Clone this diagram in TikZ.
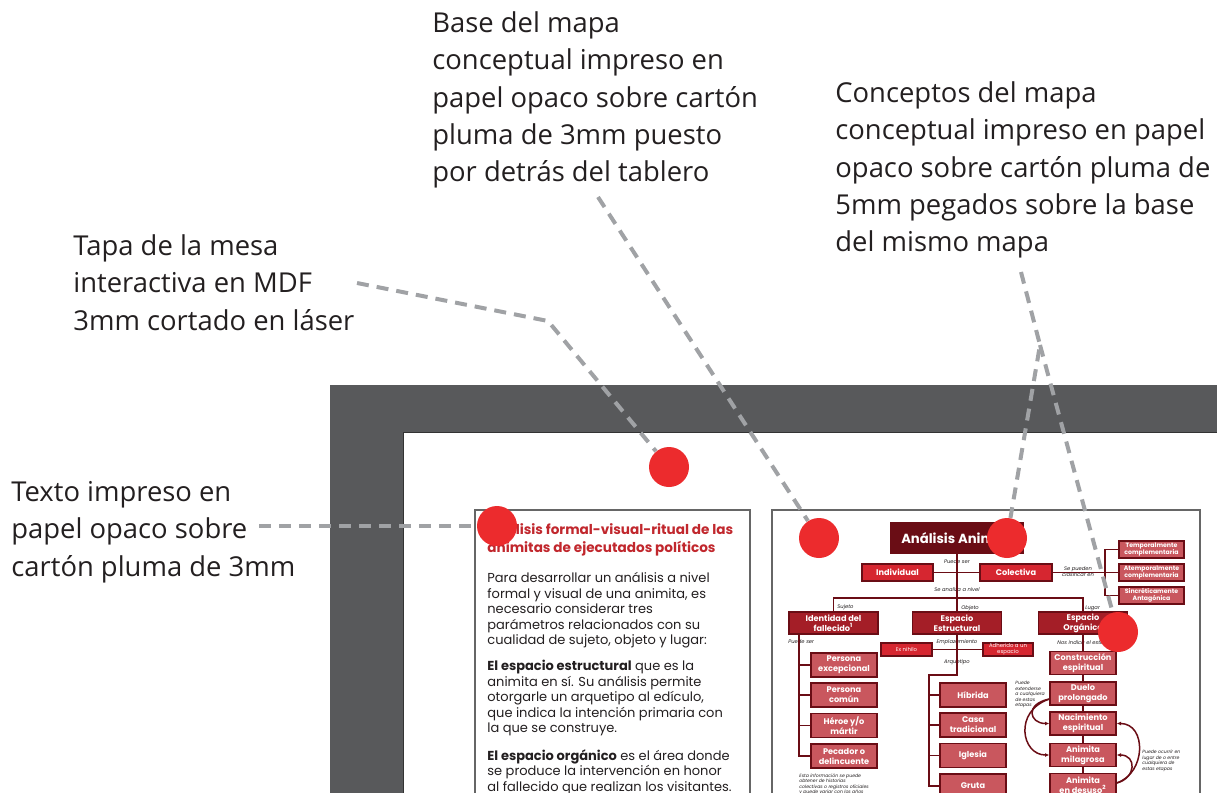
\documentclass[tikz,border=0pt]{standalone}
\usepackage{fontspec}
\setmainfont{Open Sans}
\newfontfamily\pop{Poppins}
\usetikzlibrary{positioning, arrows.meta, calc}

\definecolor{framegray}{HTML}{58595B}
\definecolor{leadgray}{HTML}{A0A2A5}
\definecolor{dotred}{HTML}{EC2B2D}
\definecolor{maroon}{HTML}{6A0D15}
\definecolor{boxred}{HTML}{D62630}
\definecolor{boxdark}{HTML}{A41E27}
\definecolor{boxpink}{HTML}{C9575E}
\definecolor{titlered}{HTML}{C1272D}
\definecolor{inktext}{HTML}{231F20}

\begin{document}
\begin{tikzpicture}[x=0.5pt, y=-0.5pt,
  note/.style={anchor=north west, inner sep=0, align=left, text=inktext,
    font=\fontsize{13.7}{18.7}\selectfont},
  lead/.style={leadgray, line width=2pt, dash pattern=on 6pt off 4pt},
  dot/.style={circle, fill=dotred, minimum size=20pt, inner sep=0},
  body/.style={anchor=north west, inner sep=0, align=left, text=inktext,
    font=\pop\fontsize{6.5}{7.75}\selectfont},
  cbox/.style={draw=maroon, line width=0.6pt, text=white, align=center,
    inner sep=0, font=\pop\bfseries\fontsize{4.1}{5}\selectfont},
  redbox/.style={cbox, fill=boxred},
  darkbox/.style={cbox, fill=boxdark, minimum width=44.5pt, minimum height=11pt},
  pinkbox/.style={cbox, fill=boxpink, minimum width=33pt, minimum height=12pt},
  sidebox/.style={cbox, fill=boxpink, minimum width=32.5pt, minimum height=8.5pt,
    font=\pop\bfseries\fontsize{3.1}{3.6}\selectfont},
  lbl/.style={inner sep=0, text=inktext, font=\pop\itshape\fontsize{2.6}{3}\selectfont},
  small/.style={lbl, anchor=north west, align=left,
    font=\pop\itshape\fontsize{2.3}{2.75}\selectfont},
  link/.style={maroon, line width=0.75pt},
  curv/.style={link, -{Latex[length=2.2pt, width=2pt]}},
]
  \clip (0,0) rectangle (1217,793);

  % table top and printed sheets
  \fill[framegray] (330,385) rectangle (1240,810);
  \filldraw[fill=white, draw=black!80, line width=0.5pt] (403,432) rectangle (1240,810);
  \filldraw[fill=white, draw=black!60, line width=0.6pt] (475,510) rectangle (750,810);
  \filldraw[fill=white, draw=black!60, line width=0.6pt] (772,510) rectangle (1200,810);

  % left sheet
  \node[body, text=titlered, font=\pop\bfseries\fontsize{6.8}{9}\selectfont] (hd) at (487,523)
    {Análisis formal-visual-ritual de las\\animitas de ejecutados políticos};
  \node[body] (pa) at (487,572) {Para desarrollar un análisis a nivel\\formal y visual de una animita, es\\necesario considerar tres\\parámetros relacionados con su\\cualidad de sujeto, objeto y lugar:};
  \node[body] (pb) at (487,660) {\textbf{El espacio estructural} que es la\\animita en sí. Su análisis permite\\otorgarle un arquetipo al edículo,\\que indica la intención primaria con\\la que se construye.};
  \node[body] (pc) at (487,749) {\textbf{El espacio orgánico} es el área donde\\se produce la intervención en honor\\al fallecido que realizan los visitantes.};

  % concept map
  \node[cbox, fill=maroon, minimum width=66pt, minimum height=15pt,
    font=\pop\bfseries\fontsize{6.6}{7}\selectfont] (ama) at (957,538) {Análisis Animita};
  \node[redbox, minimum width=35.5pt, minimum height=8.5pt] (ind) at (897.5,572.5) {Individual};
  \node[redbox, minimum width=36pt, minimum height=8.5pt] (col) at (1016,572.5) {Colectiva};
  \node[sidebox] (tmp) at (1151.5,549.5) {Temporalmente\\complementaria};
  \node[sidebox] (atm) at (1151.5,572.5) {Atemporalmente\\complementaria};
  \node[sidebox] (sin) at (1151.5,595.5) {Sincréticamente\\Antagónica};

  \node[darkbox] (idn) at (833.5,623) {Identidad del\\fallecido\textsuperscript{1}};
  \node[darkbox] (est) at (957,623) {Espacio\\Estructural};
  \node[darkbox] (org) at (1083,623) {Espacio\\Orgánico};

  \node[pinkbox] (pex) at (844,665) {Persona\\excepcional};
  \node[pinkbox] (pco) at (844,695) {Persona\\común};
  \node[pinkbox] (her) at (844,725.5) {Héroe y/o\\mártir};
  \node[pinkbox] (pec) at (844,756) {Pecador o\\delincuente};

  \node[redbox, minimum width=25.5pt, minimum height=6.5pt,
    font=\pop\fontsize{2.7}{3}\selectfont] (exn) at (906.5,649.5) {Ex nihilo};
  \node[redbox, minimum width=25pt, minimum height=6.5pt,
    font=\pop\fontsize{2.7}{2.9}\selectfont] (adh) at (1008,649.5) {Adherido a un\\espacio};

  \node[pinkbox] (hib) at (973,695) {Híbrida};
  \node[pinkbox] (cas) at (973,725) {Casa\\tradicional};
  \node[pinkbox] (igl) at (973,755.5) {Iglesia};
  \node[pinkbox] (gru) at (973,786) {Gruta};

  \node[pinkbox, minimum height=11.5pt] (con) at (1083,663) {Construcción\\espiritual};
  \node[pinkbox, minimum height=11.5pt] (due) at (1083,693.5) {Duelo\\prolongado};
  \node[pinkbox, minimum height=11.5pt] (nac) at (1083,723.5) {Nacimiento\\espiritual};
  \node[pinkbox, minimum height=11.5pt] (mil) at (1083,755) {Animita\\milagrosa};
  \node[pinkbox, minimum height=11.5pt] (des) at (1083,785) {Animita\\en desuso\textsuperscript{2}};

  % map labels
  \node[lbl] (l1) at (957,562) {Puede ser};
  \node[lbl] (l2) at (957,590) {Se analiza a nivel};
  \node[lbl, anchor=west] (l3) at (837,607) {Sujeto};
  \node[lbl, anchor=west] (l4) at (961,608) {Objeto};
  \node[lbl, anchor=west] (l5) at (1085,608) {Lugar};
  \node[lbl, align=center] (l6) at (1078,572) {Se pueden\\clasificar en};
  \node[lbl, anchor=west] (l7) at (788,642) {Puede ser};
  \node[lbl] (l8) at (957,642) {Emplazamiento};
  \node[lbl] (l9) at (957,662) {Arquetipo};
  \node[lbl, anchor=west] (l10) at (1057,643) {Nos indica el estado};
  \node[small] (l11) at (1015,681) {Puede\\extenderse\\a cualquiera\\de estas\\etapas};
  \node[small] (l12) at (1142,750) {Puede ocurrir en\\lugar de o entre\\cualquiera de\\estas etapas};
  \node[small] (l13) at (799,773) {Esta información se puede\\obtener de historias\\colectivas o registros oficiales\\y puede variar con los años};

  % map connectors
  \coordinate (lvl) at (957,598);
  \draw[link] (ama.south) -- (lvl);
  \draw[link] (ind.east) -- (col.west);
  \draw[link] (idn.north) |- (lvl) -| (org.north);
  \draw[link] (lvl) -- (est.north);
  \draw[link] (col.east) -- (atm.west);
  \coordinate (brk) at (1105,572.5);
  \draw[link] (tmp.west) -| (brk) |- (sin.west);

  \coordinate (suj) at ([xshift=-17.25pt]idn.south);
  \draw[link] (suj) |- (pec.west);
  \foreach \b in {pex, pco, her}
    \draw[link] (\b.west) -- (\b.west -| suj);

  \draw[link] (exn.east) -- (adh.west);
  \coordinate (arq) at (957,675);
  \coordinate (tkm) at (929,675);
  \draw[link] (est.south) -- (arq) -- (tkm) |- (gru.west);
  \foreach \b in {hib, cas, igl}
    \draw[link] (\b.west) -- (\b.west -| tkm);

  \foreach \a/\b in {org/con, con/due, due/nac, nac/mil, mil/des}
    \draw[link] (\a) -- (\b);

  \draw[curv] ([yshift=-2.75pt]due.west) .. controls +(-25,5) and +(-20,0) .. (nac.west);
  \draw[curv] ([yshift=-2.75pt]due.west) .. controls +(-36,12) and +(-28,0) .. (mil.west);
  \draw[curv] ([yshift=1pt]des.east) .. controls +(30,-10) and +(30,0) .. (nac.east);
  \draw[curv] ([yshift=1pt]des.east) .. controls +(20,-5) and +(20,0) .. (mil.east);

  % markers
  \node[dot] (d1) at (669,467) {};
  \node[dot] (d2) at (497,526) {};
  \node[dot] (d3) at (819,538) {};
  \node[dot] (d4) at (1007,538) {};
  \node[dot] (d5) at (1118,632) {};

  % callouts
  \node[note] (tapa) at (73,234) {Tapa de la mesa\\interactiva en MDF\\3mm cortado en láser};
  \node[note] (texto) at (11,481) {Texto impreso en\\papel opaco sobre\\cartón pluma de 3mm};
  \node[note] (base) at (432,11) {Base del mapa\\conceptual impreso en\\papel opaco sobre cartón\\pluma de 3mm puesto\\por detrás del tablero};
  \node[note] (conc) at (835,81) {Conceptos del mapa\\conceptual impreso en papel\\opaco sobre cartón pluma de\\5mm pegados sobre la base\\del mismo mapa};

  \coordinate (ta) at (357,283);
  \coordinate (tb) at (548,321);
  \draw[lead] (ta) -- (tb) -- (d1);
  \coordinate (tx) at (259,526);
  \draw[lead] (tx) -- (d2);
  \coordinate (ba) at (598,197);
  \draw[lead] (ba) -- (d3);
  \coordinate (ca) at (1021,272);
  \coordinate (cb) at (1040,345);
  \draw[lead] (ca) -- (cb) -- (d4);
  \draw[lead] (cb) -- (d5);
\end{tikzpicture}
\end{document}
